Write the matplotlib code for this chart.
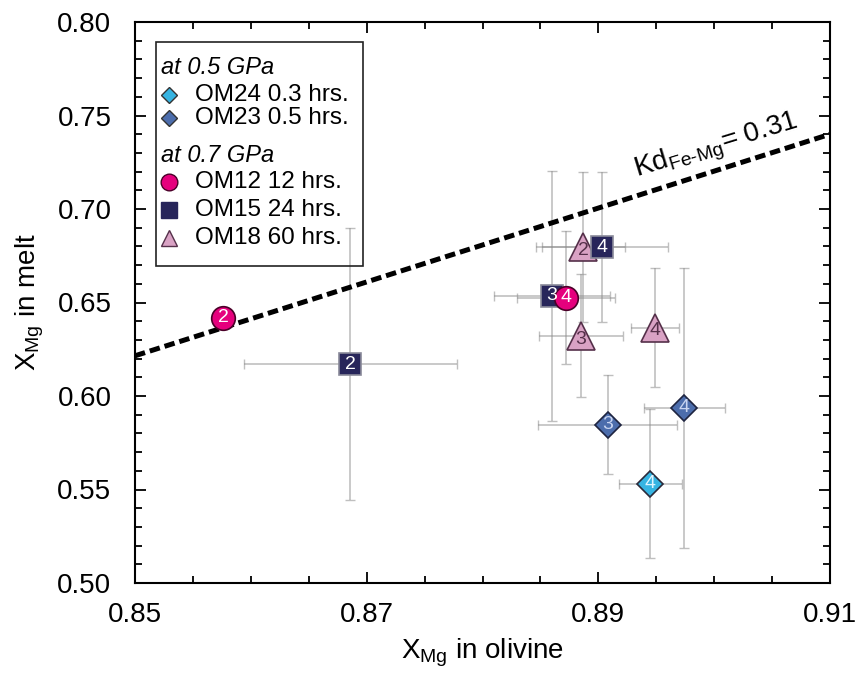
import numpy as np
import matplotlib
matplotlib.use('Agg')
import matplotlib.pyplot as plt
from matplotlib.ticker import MultipleLocator, FormatStrFormatter
from matplotlib.patches import Rectangle

plt.rcParams['font.family'] = ['Liberation Sans', 'DejaVu Sans']
plt.rcParams['mathtext.fontset'] = 'custom'
plt.rcParams['mathtext.rm'] = 'Liberation Sans'
plt.rcParams['mathtext.it'] = 'Liberation Sans:italic'
plt.rcParams['mathtext.default'] = 'regular'

# data
# OM24, 0.5 GPa, 0.3 hrs
om24_x = [0.8945]
om24_y = [0.5532]
om24_xerr = [0.0027]
om24_yerr = [0.040]
om24_lab = ['4']

# OM23, 0.5 GPa, 0.5 hrs
om23_x = [0.8908, 0.8974]
om23_y = [0.5846, 0.5937]
om23_xerr = [0.0060, 0.0035]
om23_yerr = [0.0265, 0.075]
om23_lab = ['3', '4']

# OM12, 0.7 GPa, 12 hrs
om12_x = [0.8576, 0.8872]
om12_y = [0.6418, 0.6526]
om12_xerr = [0.0006, 0.0042]
om12_yerr = [0.0015, 0.0357]
om12_lab = ['2', '4']

# OM15, 0.7 GPa, 24 hrs
om15_x = [0.8686, 0.8860, 0.8903]
om15_y = [0.6171, 0.6535, 0.6796]
om15_xerr = [0.0092, 0.0050, 0.0057]
om15_yerr = [0.0725, 0.067, 0.040]
om15_lab = ['2', '3', '4']

# OM18, 0.7 GPa, 60 hrs
om18_x = [0.8887, 0.8885, 0.8949]
om18_y = [0.6796, 0.6322, 0.6366]
om18_xerr = [0.0036, 0.0036, 0.0021]
om18_yerr = [0.040, 0.033, 0.032]
om18_lab = ['2', '3', '4']

# Kd(Fe-Mg) = 0.31 reference line, end points as drawn
kd_x = [0.85, 0.91]
kd_y = [0.6215, 0.7400]

c_om24 = '#36b4e2'
c_om23 = '#4c6dac'
c_om12 = '#e5007d'
c_om15 = '#27255a'
c_om18 = '#d9a2c4'

fig = plt.figure(figsize=(8.61, 6.77), dpi=100)
W, H = 861., 677.
L, R, T, B = 135., 830., 22., 583.
ax = fig.add_axes([L / W, 1 - B / H, (R - L) / W, (B - T) / H])


def px(x, y):
    # pixel position in the figure -> axes fraction
    return (x - L) / (R - L), (B - y) / (B - T)


ax.plot(kd_x, kd_y, color='black', lw=3.6, dashes=(2.1, 1.0),
        solid_capstyle='butt', zorder=2)

series = [
    (om24_x, om24_y, om24_xerr, om24_yerr, om24_lab, 'D', 13, c_om24, '#2a2a3a', '#dff4ff', 5),
    (om23_x, om23_y, om23_xerr, om23_yerr, om23_lab, 'D', 13, c_om23, '#1e2440', '#c8d4f0', 5),
    (om18_x, om18_y, om18_xerr, om18_yerr, om18_lab, '^', 20, c_om18, '#55304a', '#55304a', 4),
    (om15_x, om15_y, om15_xerr, om15_yerr, om15_lab, 's', 16, c_om15, '#8a8a9a', 'white', 5),
    (om12_x, om12_y, om12_xerr, om12_yerr, om12_lab, 'o', 17, c_om12, '#4a0028', 'white', 6),
]

for xv, yv, xe, ye, labs, mk, ms, fc, ec, tc, z in series:
    ax.errorbar(xv, yv, xerr=xe, yerr=ye, fmt='none', ecolor='#8c8c8c',
                alpha=0.55, elinewidth=1.2, capsize=3.5, capthick=1.0, zorder=1)
for xv, yv, xe, ye, labs, mk, ms, fc, ec, tc, z in series:
    ax.plot(xv, yv, ls='none', marker=mk, ms=ms, mfc=fc, mec=ec, mew=1.2, zorder=z)
    for xi, yi, s in zip(xv, yv, labs):
        dy = -0.0018 if mk == '^' else 0
        ax.text(xi, yi + dy, s, ha='center', va='center', fontsize=14,
                color=tc, zorder=10)

ax.set_xlim(0.85, 0.91)
ax.set_ylim(0.50, 0.80)
ax.set_xticks([0.85, 0.87, 0.89, 0.91])
ax.xaxis.set_minor_locator(MultipleLocator(0.005))
ax.yaxis.set_major_locator(MultipleLocator(0.05))
ax.yaxis.set_minor_locator(MultipleLocator(0.01))
ax.xaxis.set_major_formatter(FormatStrFormatter('%.2f'))
ax.yaxis.set_major_formatter(FormatStrFormatter('%.2f'))
ax.tick_params(which='both', direction='in', top=True, right=True, width=1.3,
               labelsize=20)
ax.tick_params(which='major', length=8)
ax.tick_params(which='minor', length=5)
ax.tick_params(axis='x', pad=14)
ax.tick_params(axis='y', pad=17)
for sp in ax.spines.values():
    sp.set_linewidth(1.5)

ax.set_xlabel('X$_{Mg}$ in olivine', fontsize=20, labelpad=6)
ax.set_ylabel('X$_{Mg}$ in melt', fontsize=20, labelpad=8)

# Kd label along the line
ax.text(*px(716, 147), r'Kd$_{Fe\text{-}Mg}$= 0.31', transform=ax.transAxes,
        rotation=17, fontsize=20, ha='center', va='center',
        rotation_mode='anchor')

# legend drawn by hand
x0, y0 = px(156, 266)
x1, y1 = px(363, 42)
ax.add_patch(Rectangle((x0, y0), x1 - x0, y1 - y0, transform=ax.transAxes,
                       fill=False, ec='#222222', lw=1.2, zorder=6))
heads = [('at 0.5 GPa', 68), ('at 0.7 GPa', 156)]
for s, yy in heads:
    ax.text(*px(161, yy), s, transform=ax.transAxes, fontsize=17,
            style='italic', va='center', ha='left', zorder=7)
entries = [
    ('OM24 0.3 hrs.', 95, 'D', 8, c_om24, '#333333'),
    ('OM23 0.5 hrs.', 118, 'D', 8, c_om23, '#333333'),
    ('OM12 12 hrs.', 182, 'o', 12, c_om12, '#4a0028'),
    ('OM15 24 hrs.', 210, 's', 11, c_om15, '#27255a'),
    ('OM18 60 hrs.', 238, '^', 11, c_om18, '#55304a'),
]
for s, yy, mk, ms, fc, ec in entries:
    mx, my = px(169, yy)
    ax.plot([mx], [my], transform=ax.transAxes, marker=mk, ms=ms, mfc=fc,
            mec=ec, mew=1.0, ls='none', zorder=7, clip_on=False)
    ax.text(*px(195, yy), s, transform=ax.transAxes, fontsize=17.5,
            va='center', ha='left', zorder=7)

fig.savefig('out.png', dpi=100)
